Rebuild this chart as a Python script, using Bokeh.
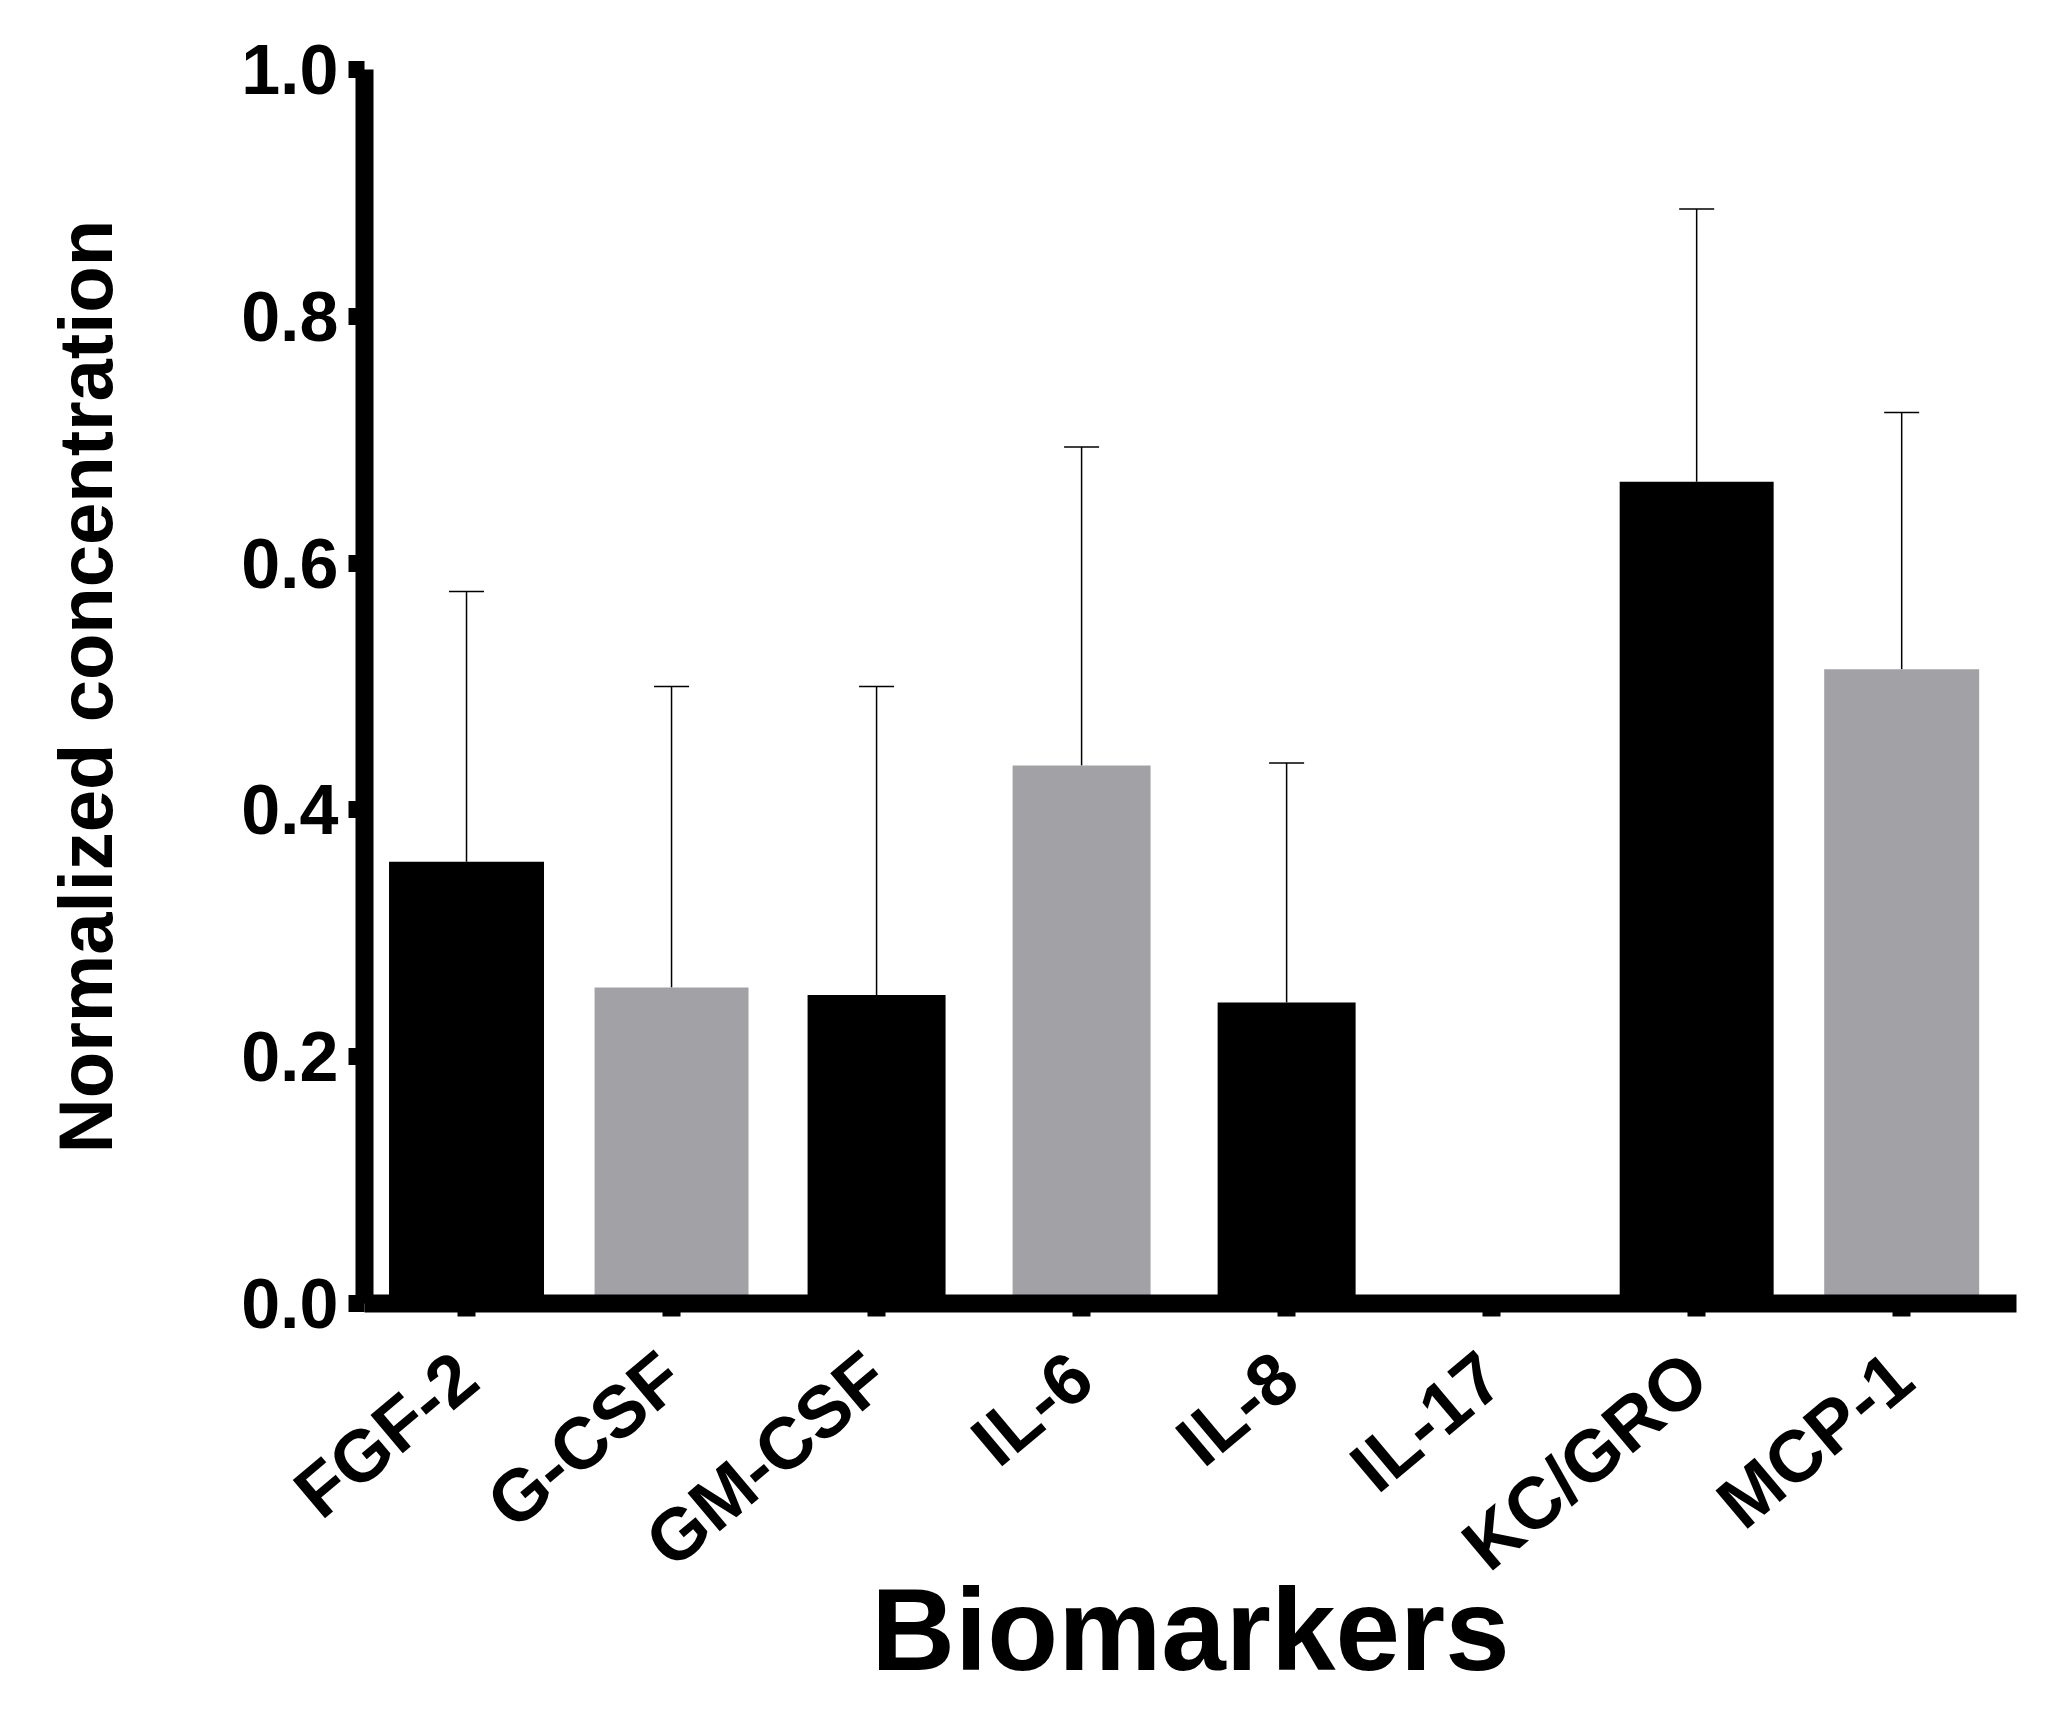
import math
from bokeh.plotting import figure
from bokeh.models import (ColumnDataSource, Range1d, FixedTicker, NumeralTickFormatter,
                          Whisker, TeeHead)
from bokeh.embed import file_html
from bokeh.resources import INLINE

# ---- data ----
biomarkers = ["FGF-2", "G-CSF", "GM-CSF", "IL-6", "IL-8", "IL-17", "KC/GRO", "MCP-1"]
mean_values = [0.358, 0.256, 0.250, 0.436, 0.244, 0.0, 0.666, 0.514]
sem_values = [0.219, 0.244, 0.250, 0.258, 0.194, 0.0, 0.221, 0.208]
y_ticks = [0.0, 0.2, 0.4, 0.6, 0.8, 1.0]

# ---- styling ----
BLACK = "#000000"
GREY = "#a2a1a6"
bar_colors = [BLACK, GREY, BLACK, GREY, BLACK, GREY, BLACK, GREY]
bar_widths = [0.756, 0.751, 0.673, 0.673, 0.673, 0.673, 0.751, 0.756]
FONT = "Liberation Sans"

xs = list(range(len(biomarkers)))
bar_src = ColumnDataSource(dict(x=xs, top=mean_values, w=bar_widths,
                                color=bar_colors, name=biomarkers))

err_idx = [i for i in xs if sem_values[i] > 0]
err_src = ColumnDataSource(dict(
    x=[xs[i] for i in err_idx],
    lower=[mean_values[i] for i in err_idx],
    upper=[mean_values[i] + sem_values[i] for i in err_idx],
))

p = figure(width=2052, height=1698,
           x_range=Range1d(-0.4976, 7.56), y_range=Range1d(0, 1.0),
           output_backend="svg", toolbar_location=None,
           min_border_left=364, min_border_right=36,
           min_border_top=69, min_border_bottom=392)
p.outline_line_color = None
p.xgrid.visible = False
p.ygrid.visible = False
p.background_fill_color = "white"
p.border_fill_color = "white"

p.vbar(x="x", top="top", width="w", fill_color="color", line_color=None,
       source=bar_src)

whisk = Whisker(base="x", lower="lower", upper="upper", source=err_src,
                dimension="height", line_color=BLACK, line_width=1.5,
                upper_head=TeeHead(size=35, line_color=BLACK, line_width=1.5),
                lower_head=None)
p.add_layout(whisk)

# y axis
yax = p.yaxis[0]
yax.ticker = FixedTicker(ticks=y_ticks)
yax.formatter = NumeralTickFormatter(format="0.0")
yax.axis_line_width = 18
yax.axis_line_color = BLACK
yax.major_tick_line_width = 17
yax.major_tick_line_color = BLACK
yax.major_tick_out = 16
yax.major_tick_in = 0
yax.minor_tick_line_color = None
yax.major_label_standoff = 10
yax.major_label_text_font = FONT
yax.major_label_text_font_style = "bold"
yax.major_label_text_font_size = "70px"
yax.major_label_text_color = BLACK
yax.axis_label = "Normalized concentration"
yax.axis_label_text_font = FONT
yax.axis_label_text_font_style = "bold"
yax.axis_label_text_font_size = "76px"
yax.axis_label_text_color = BLACK
yax.axis_label_standoff = 110

# x axis
xax = p.xaxis[0]
xax.ticker = FixedTicker(ticks=xs)
xax.major_label_overrides = {i: name for i, name in zip(xs, biomarkers)}
xax.major_label_orientation = math.radians(40)
xax.major_label_standoff = 50
xax.major_label_text_font = FONT
xax.major_label_text_font_style = "bold"
xax.major_label_text_font_size = "73px"
xax.major_label_text_color = BLACK
xax.axis_line_width = 18
xax.axis_line_color = BLACK
xax.major_tick_line_width = 18
xax.major_tick_line_color = BLACK
xax.major_tick_out = 13
xax.major_tick_in = 0
xax.minor_tick_line_color = None
xax.axis_label = "Biomarkers"
xax.axis_label_text_font = FONT
xax.axis_label_text_font_style = "bold"
xax.axis_label_text_font_size = "116px"
xax.axis_label_text_color = BLACK
xax.axis_label_standoff = -54

open("out.html", "w").write(file_html(p, INLINE))
